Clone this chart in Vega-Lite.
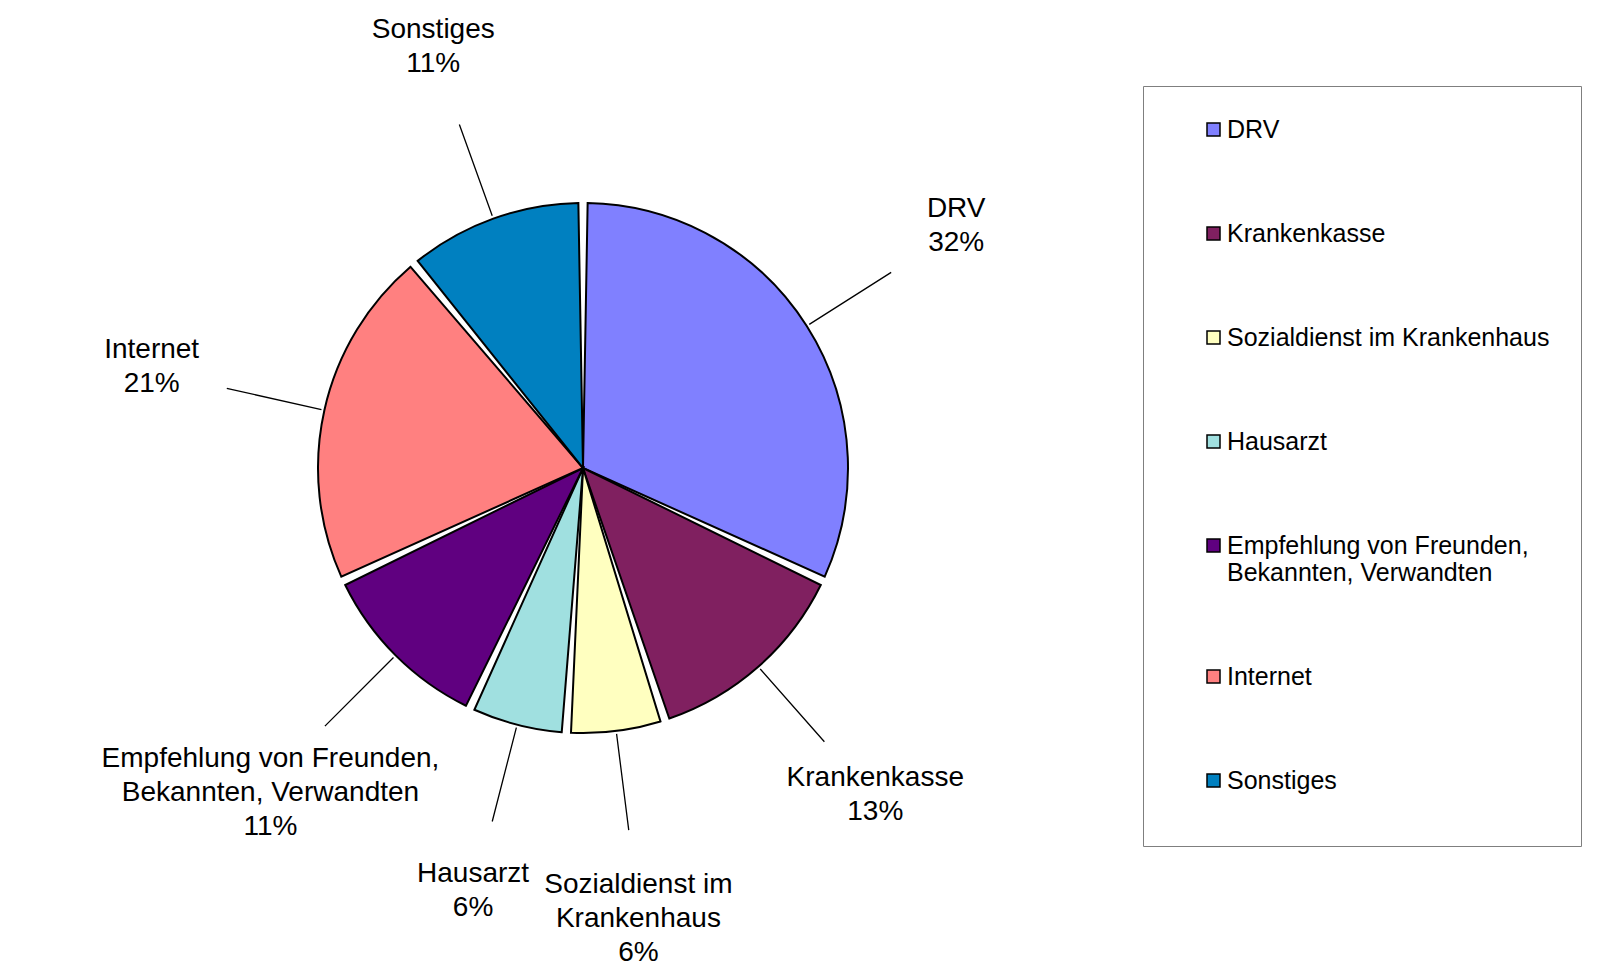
{
  "$schema": "https://vega.github.io/schema/vega-lite/v6.json",
  "width": 1166,
  "height": 936,
  "padding": 0,
  "background": "white",
  "config": {"view": {"stroke": null}, "font": "Liberation Sans"},
  "data": {
    "values": [
      {"category": "DRV", "value": 32, "label": "DRV\n32%"},
      {"category": "Krankenkasse", "value": 13, "label": "Krankenkasse\n13%"},
      {"category": "Sozialdienst im Krankenhaus", "value": 6, "label": "Sozialdienst im\nKrankenhaus\n6%"},
      {"category": "Hausarzt", "value": 6, "label": "Hausarzt\n6%"},
      {"category": "Empfehlung von Freunden, Bekannten, Verwandten", "value": 11, "label": "Empfehlung von Freunden,\nBekannten, Verwandten\n11%"},
      {"category": "Internet", "value": 21, "label": "Internet\n21%"},
      {"category": "Sonstiges", "value": 11, "label": "Sonstiges\n11%"}
    ]
  },
  "layer": [
    {
      "transform": [{"stack": "value", "groupby": [], "as": ["s0", "s1"]}],
      "mark": {"type": "arc", "outerRadius": 265, "stroke": "black", "strokeWidth": 2, "padAngle": 0.035, "opacity": 1},
      "encoding": {
        "theta": {"field": "s0", "type": "quantitative", "stack": null, "scale": {"domain": [0, 100], "nice": false, "zero": true}},
        "theta2": {"field": "s1"},
        "color": {
          "field": "category",
          "type": "nominal",
          "sort": null,
          "scale": {
            "domain": ["DRV", "Krankenkasse", "Sozialdienst im Krankenhaus", "Hausarzt", "Empfehlung von Freunden, Bekannten, Verwandten", "Internet", "Sonstiges"],
            "range": ["#8080FF", "#802060", "#FFFFC0", "#A0E0E0", "#600080", "#FF8080", "#0080C0"]
          },
          "legend": {
            "title": [" ", " ", " ", " ", " ", " ", " ", " ", " ", " ", " ", " ", " ", " ", " ", " ", " ", " ", " ", " ", " ", " ", " ", " ", " ", " "],
            "titleOrient": "left",
            "titleAnchor": "start",
            "titleFontSize": 10,
            "titleLineHeight": 27.5,
            "titlePadding": 27,
            "orient": "none",
            "legendX": 1143,
            "legendY": 86,
            "symbolType": "square",
            "symbolSize": 169,
            "symbolStrokeColor": "black",
            "symbolStrokeWidth": 1.5,
            "symbolOpacity": 1,
            "labelFontSize": 25,
            "labelFont": "Liberation Sans",
            "labelColor": "black",
            "labelLimit": 0,
            "labelOffset": 1,
            "rowPadding": 78,
            "padding": 31,
            "strokeColor": "#7f7f7f",
            "labelExpr": "datum.label == 'Empfehlung von Freunden, Bekannten, Verwandten' ? ['Empfehlung von Freunden,', 'Bekannten, Verwandten'] : datum.label == 'Sozialdienst im Krankenhaus' ? 'Sozialdienst im Krankenhaus\u00a0\u00a0\u00a0\u00a0' : datum.label"
          }
        }
      }
    },
    {
      "transform": [
        {"stack": "value", "groupby": [], "as": ["s0", "s1"]},
        {"fold": ["s0", "s1"], "as": ["k", "ang"]},
        {"aggregate": [{"op": "mean", "field": "ang", "as": "mid"}], "groupby": ["category", "label"]}
      ],
      "mark": {"type": "arc", "radius": 268, "radius2": 365, "stroke": "black", "strokeWidth": 1.3, "fill": null},
      "encoding": {
        "theta": {"field": "mid", "type": "quantitative", "scale": {"domain": [0, 100], "nice": false, "zero": true}},
        "theta2": {"field": "mid"}
      }
    },
    {
      "transform": [
        {"stack": "value", "groupby": [], "as": ["s0", "s1"]},
        {"fold": ["s0", "s1"], "as": ["k", "ang"]},
        {"aggregate": [{"op": "mean", "field": "ang", "as": "mid"}], "groupby": ["category", "label"]}
      ],
      "mark": {"type": "text", "radius": 442, "dy": -22, "fontSize": 28, "lineBreak": "\n", "lineHeight": 34, "color": "black", "font": "Liberation Sans"},
      "encoding": {
        "theta": {"field": "mid", "type": "quantitative", "scale": {"domain": [0, 100], "nice": false, "zero": true}},
        "text": {"field": "label"}
      }
    }
  ]
}
